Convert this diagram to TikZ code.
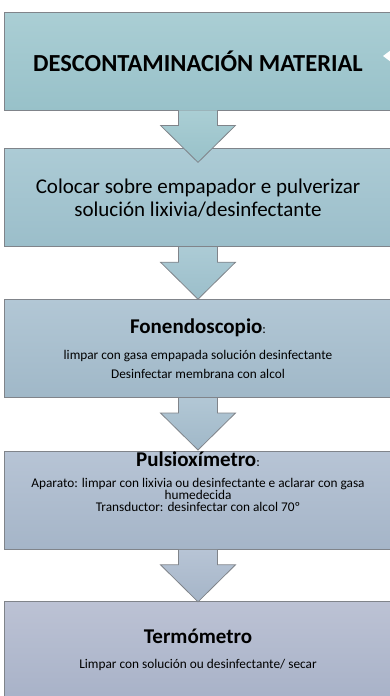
\documentclass[tikz,border=0pt]{standalone}
\usepackage{fontspec}
\setmainfont{Carlito}
\usetikzlibrary{positioning,calc}

\definecolor{bordeg}{RGB}{128,132,138}
\definecolor{cajaAa}{RGB}{170,206,212}
\definecolor{cajaAb}{RGB}{152,193,201}
\definecolor{cajaBa}{RGB}{172,203,213}
\definecolor{cajaBb}{RGB}{155,190,202}
\definecolor{cajaCa}{RGB}{178,199,213}
\definecolor{cajaCb}{RGB}{160,184,200}
\definecolor{cajaDa}{RGB}{183,196,213}
\definecolor{cajaDb}{RGB}{165,181,200}
\definecolor{cajaEa}{RGB}{188,194,212}
\definecolor{cajaEb}{RGB}{168,178,200}

\newcommand{\tamgrande}{\fontsize{24.5}{29}\selectfont}
\newcommand{\tammedio}{\fontsize{21}{24}\selectfont}
\newcommand{\tamtitulo}{\fontsize{21}{24}\selectfont}
\newcommand{\tampeque}{\fontsize{13.3}{15}\selectfont}
\newcommand{\tamapretado}{\fontsize{13.3}{14}\selectfont}

\tikzset{
  caja/.style={draw=bordeg, line width=0.8pt, minimum width=388pt,
    minimum height=98pt, align=center, inner sep=0pt},
  flecha/.style={draw=bordeg, line width=0.8pt, line join=miter}
}

\begin{document}
\begin{tikzpicture}[x=1pt,y=1pt]
\useasboundingbox (0,0) rectangle (390,-696);
\clip (0,0) rectangle (390,-696);

%cajas del diagrama
\node[caja, top color=cajaAa, bottom color=cajaAb] (desc) at (198,-61)
  {\tamgrande\bfseries DESCONTAMINACIÓN MATERIAL};
\node[caja, top color=cajaBa, bottom color=cajaBb, below=38pt of desc] (colocar)
  {\tammedio Colocar sobre empapador e pulverizar\\[4pt] \tammedio solución lixivia/desinfectante};
\node[caja, top color=cajaCa, bottom color=cajaCb, below=52pt of colocar] (fonendo)
  {{\tamtitulo\bfseries Fonendoscopio}{\tampeque:}\\[13pt]
   \tampeque limpar con gasa empapada solución desinfectante\\[7pt]
   \tampeque Desinfectar membrana con alcol};
\node[caja, top color=cajaDa, bottom color=cajaDb, below=53pt of fonendo] (pulsi)
  {};
\node[anchor=north, align=center, inner sep=0pt] (pulsitxt) at ($(pulsi.north)+(0,-1)$)
  {{\tamtitulo\bfseries Pulsioxímetro}{\tamapretado:}\\[9pt]
   \tamapretado Aparato: limpar con lixivia ou desinfectante e aclarar con gasa\\
   \tamapretado humedecida\\
   \tamapretado Transductor: desinfectar con alcol 70º};
\node[caja, top color=cajaEa, bottom color=cajaEb, below=51pt of pulsi] (termo)
  {{\tamtitulo\bfseries Termómetro}\\[13pt]
   \tampeque Limpar con solución ou desinfectante/ secar};

%flechas entre cajas
\foreach \a/\ca/\cb in {desc/cajaAa/cajaAb, colocar/cajaBa/cajaBb,
                        fonendo/cajaCa/cajaCb, pulsi/cajaDa/cajaDb}
  \draw[flecha, top color=\ca, bottom color=\cb]
    ($(\a.south)+(-19.5,0)$) -- ++(0,-15) -- ++(-18,0)
    -- ($(\a.south)+(0,-52)$) -- ($(\a.south)+(37.5,-15)$)
    -- ++(-18,0) -- ++(0,15);

%marca blanca a la derecha
\fill[white] (383,-56) -- (391,-50) -- (391,-62) -- cycle;
\end{tikzpicture}
\end{document}
